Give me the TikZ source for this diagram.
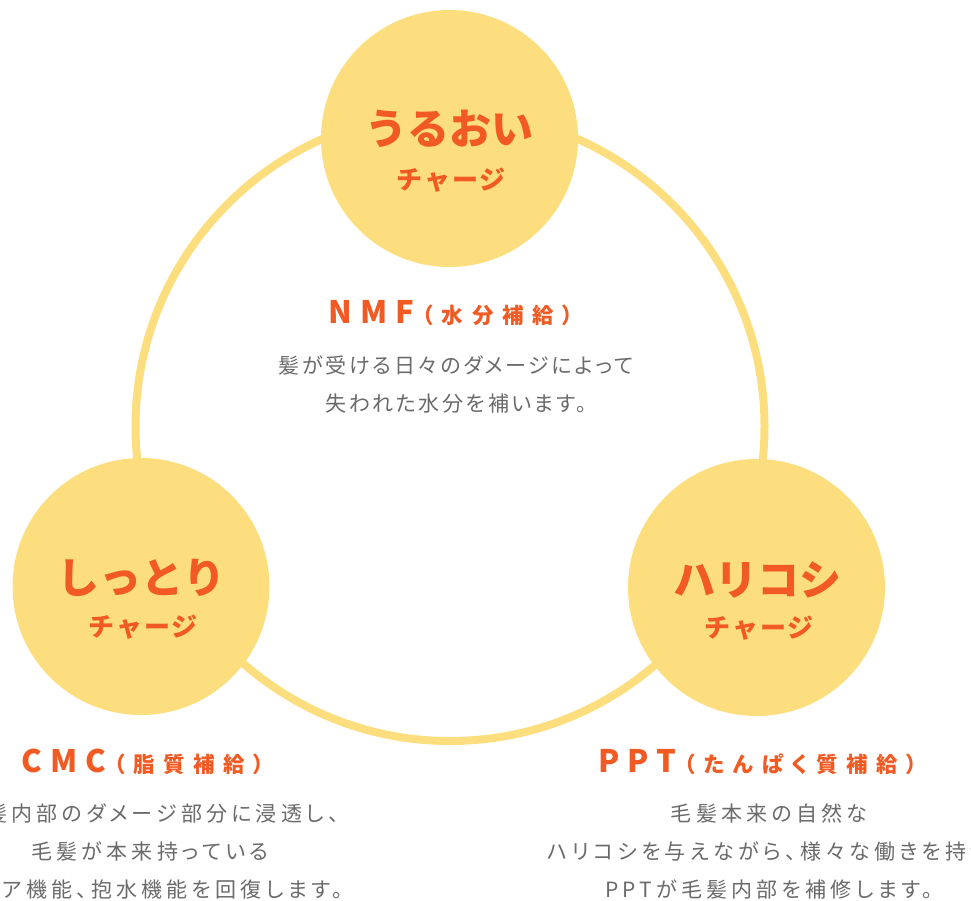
\documentclass[tikz,border=0pt]{standalone}
\usepackage{fontspec}
\usepackage{xcolor}
\usetikzlibrary{positioning}
\newfontfamily\jpfont{Noto Sans CJK JP}
\newfontfamily\jpspread{Noto Sans CJK JP}[LetterSpace=8]
\newfontfamily\jpwide{Noto Sans CJK JP}[LetterSpace=26]
\newfontfamily\jpparen{Noto Sans CJK JP}[RawFeature=+palt, LetterSpace=40]
\newfontfamily\jpbody{Noto Sans CJK JP}[RawFeature=+palt, LetterSpace=20]
\newfontfamily\jpbodytight{Noto Sans CJK JP}[RawFeature=+palt, LetterSpace=13]
\definecolor{charge}{HTML}{FDDE7F}
\definecolor{accent}{HTML}{F15A22}
\definecolor{bodygray}{HTML}{6A6A6A}
\newcommand\headline[2]{{\jpwide\fontsize{31}{36}\selectfont #1}\hspace{8pt}{\jpparen\fontsize{21.5}{36}\selectfont （#2）}}

\tikzset{
  bubble/.style={circle, fill=charge, minimum size=257pt, inner sep=0pt},
  ring/.style={draw=charge, line width=8pt},
  bigword/.style={text=accent, font=\jpfont\bfseries\fontsize{42}{50}\selectfont, inner sep=0pt},
  chargeword/.style={text=accent, font=\jpspread\bfseries\fontsize{26}{30}\selectfont, inner sep=0pt},
  heading/.style={text=accent, font=\bfseries, inner sep=0pt},
  bodytext/.style={text=bodygray, font=\jpbody\fontsize{21}{38}\selectfont, align=center, inner sep=0pt},
  centertext/.style={bodytext, font=\jpbodytight\fontsize{21}{37.5}\selectfont},
}

\begin{document}
\begin{tikzpicture}[x=1pt, y=-1pt]
    \useasboundingbox (0,0) rectangle (971,901);
    \clip (0,0) rectangle (971,901);

    % Ring behind the three charges
    \coordinate (hub) at (450,426.5);
    \draw[ring] (hub) circle [radius=314.5pt];

    \node [bubble] (uruoi) at (449.5,138.5) {};
    \node [bubble] (shittori) at (141,586.5) {};
    \node [bubble] (harikoshi) at (756.5,587.5) {};

    % Circle labels
    \node [bigword] (uruoiname) at (449,129) {うるおい};
    \node [chargeword] (uruoicharge) at (451,180) {チャージ};
    \node [bigword] (shittoriname) at (141.5,578) {しっとり};
    \node [chargeword] (shittoricharge) at (143,627) {チャージ};
    \node [bigword] (harikoshiname) at (757,580) {ハリコシ};
    \node [chargeword] (harikoshicharge) at (759,628) {チャージ};

    % Headings and notes
    \node [heading] (nmf) at (451,313) {\headline{NMF}{水分補給}};
    \node [centertext] (nmfnote) at (456,384.5) {髪が受ける日々のダメージによって\\失われた水分を補います。};

    \node [heading] (cmc) at (143,762) {\headline{CMC}{脂質補給}};
    \node [bodytext] (cmcnote) at (150,851) {毛髪内部のダメージ部分に浸透し、\\毛髪が本来持っている\\バリア機能、抱水機能を回復します。};

    \node [heading] (ppt) at (758,762) {\headline{PPT}{たんぱく質補給}};
    \node [bodytext] (pptnote) at (769,851) {毛髪本来の自然な\\ハリコシを与えながら、様々な働きを持つ\\PPTが毛髪内部を補修します。};
\end{tikzpicture}
\end{document}
